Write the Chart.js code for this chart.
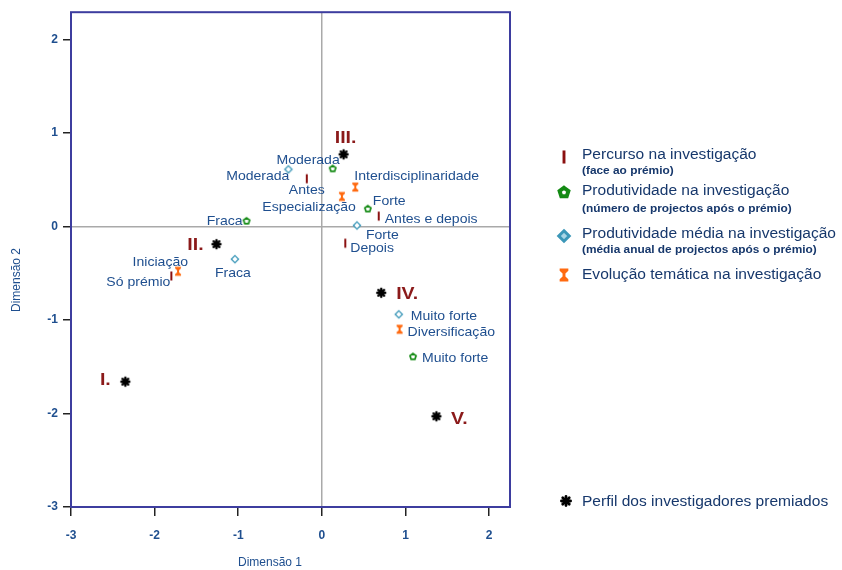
<!DOCTYPE html>
<html>
<head>
<meta charset="utf-8">
<script src="https://cdn.jsdelivr.net/npm/chart.js@4/dist/chart.umd.min.js"></script>
<style>
  html, body { margin: 0; padding: 0; background: #fff; }
</style>
</head>
<body>
<canvas id="chart" width="842" height="570"></canvas>
<script>
// axis ticks
const xTicks = [-3, -2, -1, 0, 1, 2];
const yTicks = [-3, -2, -1, 0, 1, 2];

// Percurso na investigação (face ao prémio)
const percursoNames = ['Antes', 'Antes e depois', 'Depois', 'Só prémio'];
const percursoX = [-0.18, 0.68, 0.28, -1.80];
const percursoY = [0.51, 0.11, -0.18, -0.53];

// Produtividade na investigação (número de projectos)
const prodNames = ['Moderada', 'Forte', 'Fraca', 'Muito forte'];
const prodX = [0.13, 0.55, -0.90, 1.09];
const prodY = [0.62, 0.19, 0.06, -1.39];

// Produtividade média na investigação
const mediaNames = ['Moderada', 'Forte', 'Fraca', 'Muito forte'];
const mediaX = [-0.40, 0.42, -1.04, 0.92];
const mediaY = [0.61, 0.01, -0.35, -0.94];

// Evolução temática na investigação
const evolNames = ['Interdisciplinaridade', 'Especialização', 'Iniciação', 'Diversificação'];
const evolX = [0.40, 0.24, -1.72, 0.93];
const evolY = [0.42, 0.32, -0.48, -1.10];

// Perfil dos investigadores premiados
const perfilNames = ['I.', 'II.', 'III.', 'IV.', 'V.'];
const perfilX = [-2.35, -1.26, 0.26, 0.71, 1.37];
const perfilY = [-1.66, -0.19, 0.77, -0.71, -2.03];

const legendTitles = [
  'Percurso na investigação',
  'Produtividade na investigação',
  'Produtividade média na investigação',
  'Evolução temática na investigação',
  'Perfil dos investigadores premiados'
];
const legendSubtitles = [
  '(face ao prémio)',
  '(número de projectos após o prémio)',
  '(média anual de projectos após o prémio)',
  '',
  ''
];

const FONT = '"Liberation Sans", Arial, sans-serif';
const labelColor = '#1f4f8f';
const legendColor = '#17386c';

// label offsets from the point, in pixels: [dx, dy, align]
const placePercurso = [[0, 12, 'center'], [6, 3, 'left'], [5, 5, 'left'], [-1, 6, 'right']];
const placeProd = [[7, -8, 'right'], [5, -7, 'left'], [-4, 1, 'right'], [9, 2, 'left']];
const placeMedia = [[1, 7, 'right'], [9, 10, 'left'], [-2, 14, 'center'], [12, 2, 'left']];
const placeEvol = [[-1, -11, 'left'], [14, 11, 'right'], [10, -9, 'right'], [8, 3, 'left']];
const placePerfil = [[-20, -1, 'center'], [-21, 1, 'center'], [2, -16, 'center'], [26, 2, 'center'], [23, 3, 'center']];

// the source picture is slightly wider than tall, so text is stretched a bit
function wideText(ctx, text, x, y, align, sx) {
  ctx.save();
  ctx.translate(x, y);
  ctx.scale(sx, 1);
  ctx.textAlign = align;
  ctx.textBaseline = 'middle';
  ctx.fillText(text, 0, 0);
  ctx.restore();
}

function drawMarker(ctx, type, x, y, s, bold) {
  const w = bold ? 1.6 : 1;
  ctx.save();
  ctx.translate(x, y);
  ctx.scale(s, s);
  if (type === 'bar') {
    ctx.fillStyle = '#8b1010';
    ctx.fillRect(-1, -4.5, 2, 9);
  } else if (type === 'pent') {
    ctx.beginPath();
    for (let i = 0; i < 5; i++) {
      const a = -Math.PI / 2 + i * 2 * Math.PI / 5;
      const px = 3.2 * Math.cos(a), py = 3.2 * Math.sin(a) + 0.3;
      i ? ctx.lineTo(px, py) : ctx.moveTo(px, py);
    }
    ctx.closePath();
    ctx.fillStyle = '#fff';
    ctx.fill();
    ctx.strokeStyle = '#138a13';
    ctx.lineWidth = 1.7 * w;
    ctx.stroke();
  } else if (type === 'diam') {
    ctx.beginPath();
    ctx.moveTo(0, -3.6); ctx.lineTo(3.6, 0); ctx.lineTo(0, 3.6); ctx.lineTo(-3.6, 0);
    ctx.closePath();
    ctx.fillStyle = bold ? '#a9d6e6' : '#fff';
    ctx.fill();
    ctx.strokeStyle = '#3b97b8';
    ctx.lineWidth = 1.3 * w;
    ctx.stroke();
  } else if (type === 'hour') {
    ctx.beginPath();
    ctx.moveTo(-3, -4.5); ctx.lineTo(3, -4.5); ctx.lineTo(3, -3); ctx.lineTo(1, -1);
    ctx.lineTo(1, 1); ctx.lineTo(3, 3); ctx.lineTo(3, 4.5); ctx.lineTo(-3, 4.5);
    ctx.lineTo(-3, 3); ctx.lineTo(-1, 1); ctx.lineTo(-1, -1); ctx.lineTo(-3, -3);
    ctx.closePath();
    ctx.fillStyle = '#ff6a10';
    ctx.fill();
  } else if (type === 'star') {
    ctx.strokeStyle = '#000';
    ctx.lineWidth = 2.4;
    ctx.lineCap = 'round';
    for (let i = 0; i < 4; i++) {
      const a = i * Math.PI / 4;
      ctx.beginPath();
      ctx.moveTo(-4 * Math.cos(a), -4 * Math.sin(a));
      ctx.lineTo(4 * Math.cos(a), 4 * Math.sin(a));
      ctx.stroke();
    }
  }
  ctx.restore();
}

function markerImage(type) {
  const c = document.createElement('canvas');
  c.width = 14; c.height = 14;
  drawMarker(c.getContext('2d'), type, 7, 7, 1, false);
  return c;
}

function pts(xs, ys) {
  return xs.map((v, i) => ({ x: v, y: ys[i] }));
}

const pointLabels = {
  id: 'pointLabels',
  afterDatasetsDraw(chart) {
    const ctx = chart.ctx;
    chart.data.datasets.forEach((ds, di) => {
      const meta = chart.getDatasetMeta(di);
      meta.data.forEach((el, i) => {
        const [dx, dy, align] = ds.place[i];
        ctx.save();
        if (ds.roman) {
          ctx.font = 'bold 17px ' + FONT;
          ctx.fillStyle = '#8b1a1a';
          wideText(ctx, ds.names[i], el.x + dx, el.y + dy, align, 1.15);
        } else {
          ctx.font = '13px ' + FONT;
          ctx.fillStyle = labelColor;
          wideText(ctx, ds.names[i], el.x + dx, el.y + dy, align, 1.08);
        }
        ctx.restore();
      });
    });
  }
};

const frame = {
  id: 'frame',
  beforeDatasetsDraw(chart) {
    const { ctx, chartArea: a } = chart;
    ctx.save();
    ctx.strokeStyle = '#3d3d9f';
    ctx.lineWidth = 2;
    ctx.strokeRect(a.left, a.top, a.right - a.left, a.bottom - a.top);
    ctx.restore();
  },
  afterDraw(chart) {
    const ctx = chart.ctx;
    ctx.save();
    ctx.fillStyle = labelColor;
    ctx.font = '12px ' + FONT;
    ctx.textAlign = 'center';
    ctx.textBaseline = 'middle';
    ctx.fillText('Dimensão 1', 270, 563);
    ctx.translate(17, 280);
    ctx.rotate(-Math.PI / 2);
    ctx.fillText('Dimensão 2', 0, 0);
    ctx.restore();

    // legend
    const types = ['bar', 'pent', 'diam', 'hour', 'star'];
    const markerY = [157, 192, 236, 275, 501];
    const titleY = [155, 191, 234, 275, 502];
    const subY = [171, 209, 250, 0, 0];
    ctx.save();
    types.forEach((t, i) => {
      drawMarker(ctx, t, t === 'star' ? 566 : 564, markerY[i], t === 'star' ? 1.15 : 1.45, true);
      ctx.fillStyle = legendColor;
      ctx.font = '14px ' + FONT;
      wideText(ctx, legendTitles[i], 582, titleY[i], 'left', 1.11);
      if (legendSubtitles[i]) {
        ctx.font = 'bold 10.5px ' + FONT;
        wideText(ctx, legendSubtitles[i], 582, subY[i], 'left', 1.13);
      }
    });
    ctx.restore();
  }
};

const tickFont = { family: FONT, size: 12, weight: 'bold' };
const zeroGrid = c => (c.tick && c.tick.value === 0 ? '#a9a9a9' : 'rgba(0,0,0,0)');

new Chart(document.getElementById('chart'), {
  type: 'scatter',
  data: {
    datasets: [
      { data: pts(percursoX, percursoY), names: percursoNames, place: placePercurso, pointStyle: markerImage('bar') },
      { data: pts(prodX, prodY), names: prodNames, place: placeProd, pointStyle: markerImage('pent') },
      { data: pts(mediaX, mediaY), names: mediaNames, place: placeMedia, pointStyle: markerImage('diam') },
      { data: pts(evolX, evolY), names: evolNames, place: placeEvol, pointStyle: markerImage('hour') },
      { data: pts(perfilX, perfilY), names: perfilNames, place: placePerfil, roman: true, pointStyle: markerImage('star') }
    ]
  },
  options: {
    responsive: false,
    animation: false,
    layout: { padding: { top: 12, right: 332, left: 0, bottom: 0 } },
    plugins: { legend: { display: false }, tooltip: { enabled: false } },
    scales: {
      x: {
        type: 'linear',
        min: -3,
        max: 2.25,
        afterBuildTicks: s => { s.ticks = xTicks.map(v => ({ value: v })); },
        afterFit: s => { s.height = 63; },
        border: { display: false },
        grid: { color: zeroGrid, lineWidth: 1.5, tickColor: '#222', tickLength: 9 },
        ticks: { color: labelColor, font: tickFont, padding: 12 }
      },
      y: {
        type: 'linear',
        min: -3,
        max: 2.29,
        afterBuildTicks: s => { s.ticks = yTicks.map(v => ({ value: v })); },
        afterFit: s => { s.width = 71; },
        border: { display: false },
        grid: { color: zeroGrid, lineWidth: 1.5, tickColor: '#222', tickLength: 8 },
        ticks: { color: labelColor, font: tickFont, padding: 5 }
      }
    }
  },
  plugins: [frame, pointLabels]
});
</script>
</body>
</html>
